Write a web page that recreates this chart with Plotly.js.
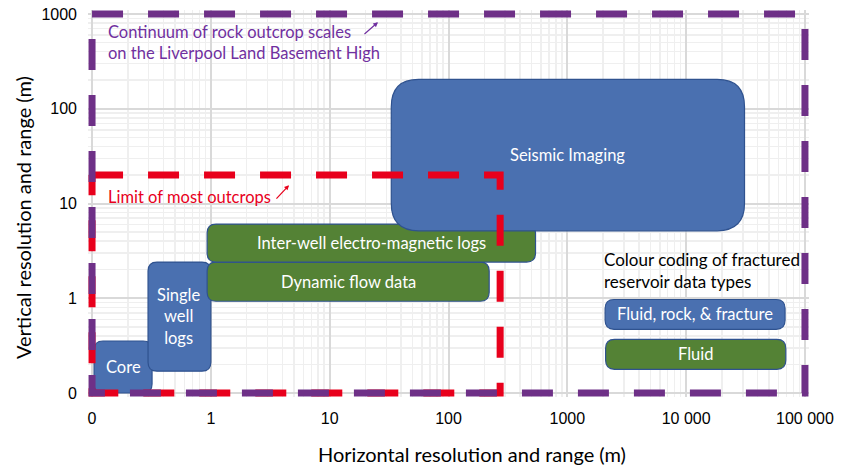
<!DOCTYPE html>
<html><head><meta charset="utf-8">
<script src="https://cdn.plot.ly/plotly-3.0.1.min.js"></script>
<style>body{margin:0;background:#fff}#chart{width:842px;height:466px}</style>
</head><body><div id="chart"></div>
<script>
// Data-type boxes: horizontal range (m) and vertical range (m)
const boxLabels = ['Core', 'Single<br>well<br>logs', 'Dynamic flow data', 'Inter-well electro-magnetic logs', 'Seismic Imaging'];
const boxTypes  = ['rock', 'rock', 'fluid', 'fluid', 'rock'];
const boxX0 = [0.104, 0.296, 0.93, 0.93, 33];
const boxX1 = [0.32, 1.0, 220, 540, 31000];
const boxY0 = [0.1, 0.17, 0.93, 2.41, 5.15];
const boxY1 = [0.354, 2.41, 2.41, 6.06, 204];

// Legend (colour key) boxes
const keyLabels = ['Fluid, rock, &amp; fracture', 'Fluid'];
const keyTypes  = ['rock', 'fluid'];
const keyX0 = [2080, 2100];
const keyX1 = [68000, 69000];
const keyY0 = [0.47, 0.178];
const keyY1 = [0.97, 0.368];

// Outcrop limits
const outcropContinuum = {x0: 0.1, x1: 100000, y0: 0.1, y1: 1000};
const outcropLimit = {x0: 0.1, x1: 272, y0: 0.1, y1: 20};

// Axis ticks
const xTickVals = [0.1, 1, 10, 100, 1000, 10000, 100000];
const xTickText = ['0', '1', '10', '100', '1000', '10 000', '100 000'];
const yTickVals = [0.1, 1, 10, 100, 1000];
const yTickText = ['0', '1', '10', '100', '1000'];

const fillColor = {rock: '#4a70b0', fluid: '#548235'};
const edgeColor = '#2f528f';
const L = Math.log10;
const gill = 'Lato, "Open Sans", sans-serif';

function roundedPath(x0, x1, y0, y1, rx, ry) {
  // rx, ry: corner size in decades (log space)
  const a = L(x0), b = L(x1), c = L(y0), d = L(y1);
  rx = Math.min(rx, (b - a) / 2); ry = Math.min(ry, (d - c) / 2);
  const P = v => Math.pow(10, v).toPrecision(8);
  return 'M' + P(a + rx) + ',' + P(c) +
    ' L' + P(b - rx) + ',' + P(c) +
    ' Q' + P(b) + ',' + P(c) + ' ' + P(b) + ',' + P(c + ry) +
    ' L' + P(b) + ',' + P(d - ry) +
    ' Q' + P(b) + ',' + P(d) + ' ' + P(b - rx) + ',' + P(d) +
    ' L' + P(a + rx) + ',' + P(d) +
    ' Q' + P(a) + ',' + P(d) + ' ' + P(a) + ',' + P(d - ry) +
    ' L' + P(a) + ',' + P(c + ry) +
    ' Q' + P(a) + ',' + P(c) + ' ' + P(a + rx) + ',' + P(c) + ' Z';
}

const shapes = [];
const annotations = [];
const boxFont = {family: gill, size: 16.5, color: '#ffffff'};

function addBox(label, type, x0, x1, y0, y1, big) {
  const rx = big ? 0.23 : 0.075, ry = big ? 0.29 : 0.095;
  shapes.push({type: 'path', xref: 'x', yref: 'y', layer: 'between',
    path: roundedPath(x0, x1, y0, y1, rx, ry),
    fillcolor: fillColor[type], line: {color: edgeColor, width: 1.2}});
  annotations.push({xref: 'x', yref: 'y', x: (L(x0) + L(x1)) / 2, y: (L(y0) + L(y1)) / 2,
    text: label, showarrow: false, font: boxFont, xanchor: 'center', yanchor: 'middle'});
}
for (let i = 0; i < boxLabels.length; i++) {
  addBox(boxLabels[i], boxTypes[i], boxX0[i], boxX1[i], boxY0[i], boxY1[i], i === 4);
}
for (let i = 0; i < keyLabels.length; i++) {
  addBox(keyLabels[i], keyTypes[i], keyX0[i], keyX1[i], keyY0[i], keyY1[i], false);
}

// dashed outlines as traces (start at top-left, clockwise)
function outline(o, color) {
  return {type: 'scatter', mode: 'lines', hoverinfo: 'skip', cliponaxis: false,
    x: [o.x0, o.x1, o.x1, o.x0, o.x0], y: [o.y1, o.y1, o.y0, o.y0, o.y1],
    line: {color: color, width: 7, dash: '31px,25px'}};
}
const traces = [outline(outcropLimit, '#e8001c'), outline(outcropContinuum, '#6e3087')];

const textFont = {family: gill, size: 16.5};
annotations.push({xref: 'x', yref: 'y', x: L(0.13), y: L(870), xanchor: 'left', yanchor: 'top',
  align: 'left', showarrow: false,
  text: 'Continuum of rock outcrop scales<br>on the Liverpool Land Basement High',
  font: Object.assign({}, textFont, {color: '#7030a0'})});
annotations.push({xref: 'x', yref: 'y', x: L(25.5), y: L(818), ax: -15, ay: 13,
  showarrow: true, arrowhead: 2, arrowsize: 0.8, arrowwidth: 1.2,
  arrowcolor: '#7030a0', text: ''});
annotations.push({xref: 'x', yref: 'y', x: L(0.13), y: L(11.7), xanchor: 'left', yanchor: 'middle',
  showarrow: false, text: 'Limit of most outcrops',
  font: Object.assign({}, textFont, {color: '#e8001c'})});
annotations.push({xref: 'x', yref: 'y', x: L(4.55), y: L(15.6), ax: -14, ay: 15,
  showarrow: true, arrowhead: 2, arrowsize: 0.8, arrowwidth: 1.2, arrowcolor: '#e8001c', text: ''});
annotations.push({xref: 'x', yref: 'y', x: L(1950), y: L(1.98), xanchor: 'left', yanchor: 'middle',
  align: 'left', showarrow: false, text: 'Colour coding of fractured<br>reservoir data types',
  font: {family: gill, size: 17, color: '#000000'}});

// axis titles (placed as in the reference, slightly off-centre)
annotations.push({xref: 'paper', yref: 'paper', x: 0.5326, y: -0.147, xanchor: 'center', yanchor: 'middle',
  showarrow: false, text: 'Horizontal resolution and range (m)',
  font: {family: gill, size: 20, color: '#000'}});
annotations.push({xref: 'paper', yref: 'paper', x: -0.0902, y: 0.465, xanchor: 'center', yanchor: 'middle',
  showarrow: false, textangle: -90, text: 'Vertical resolution and range (m)',
  font: {family: gill, size: 20, color: '#000'}});

const axisCommon = {
  type: 'log', showgrid: true, gridcolor: '#d9d9d9', gridwidth: 2,
  zeroline: false, showline: false, ticks: '',
  tickfont: {family: '"Liberation Sans", Arial, sans-serif', size: 16, color: '#000'},
  minor: {dtick: 'D1', showgrid: true, gridcolor: '#efefef', gridwidth: 1.5}
};

const layout = {
  width: 842, height: 466,
  margin: {l: 88, r: 33, t: 10, b: 69},
  paper_bgcolor: '#fff', plot_bgcolor: '#fff',
  showlegend: false,
  xaxis: Object.assign({}, axisCommon, {
    range: [-1.034, 5.034], tickvals: xTickVals, ticktext: xTickText, ticklabelstandoff: 10
  }),
  yaxis: Object.assign({}, axisCommon, {
    range: [-1.042, 3.042], tickvals: yTickVals, ticktext: yTickText, ticklabelstandoff: 10
  }),
  shapes: shapes,
  annotations: annotations
};

Plotly.newPlot('chart', traces, layout, {displayModeBar: false, staticPlot: true});
</script>
</body></html>
